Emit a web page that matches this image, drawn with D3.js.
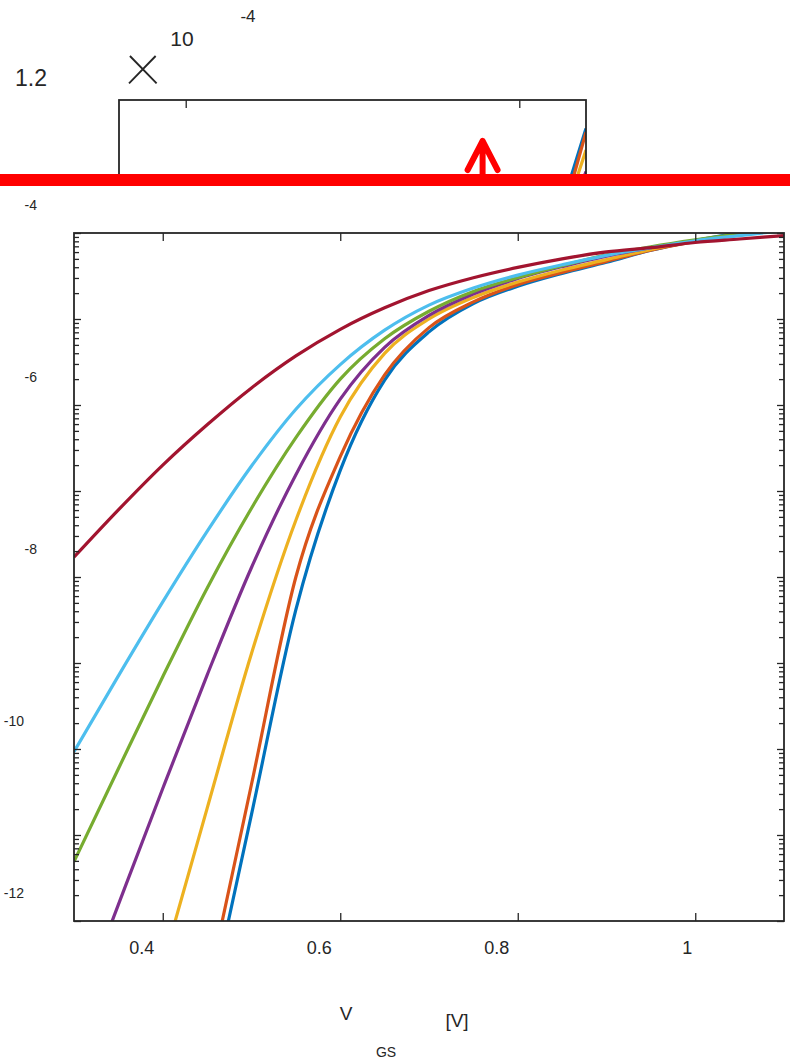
<!DOCTYPE html>
<html>
<head>
<meta charset="utf-8">
<script src="https://cdn.jsdelivr.net/npm/d3@7"></script>
<style>
body { margin: 0; background: #fff; }
text { font-family: "Liberation Sans", Arial, sans-serif; fill: #262626; }
</style>
</head>
<body>
<div id="chart"></div>
<script>
// gate voltage grid [V]
var vgs = [0.30, 0.35, 0.40, 0.45, 0.50, 0.55, 0.60, 0.65, 0.70, 0.75, 0.80, 0.85, 0.90, 0.95, 1.00, 1.05, 1.10];

// drain current [A], one array per curve (MATLAB default colour order)
var idBlue   = [5.25e-21, 1.26e-18, 3.02e-16, 7.24e-14, 1.74e-11, 4.17e-9, 1.74e-7, 1.95e-6, 7.08e-6, 1.51e-5, 2.40e-5, 3.39e-5, 4.57e-5, 6.31e-5, 8.13e-5, 1.02e-4, 1.32e-4];
var idOrange = [8.91e-21, 2.29e-18, 5.89e-16, 1.51e-13, 3.89e-11, 1.0e-8, 2.51e-7, 2.24e-6, 7.94e-6, 1.58e-5, 2.51e-5, 3.47e-5, 4.68e-5, 6.31e-5, 7.94e-5, 9.77e-5, 1.31e-4];
var idYellow = [6.31e-17, 4.37e-15, 3.09e-13, 2.04e-11, 1.29e-9, 4.57e-8, 7.24e-7, 3.98e-6, 1.0e-5, 1.78e-5, 2.69e-5, 3.72e-5, 4.90e-5, 6.46e-5, 8.13e-5, 9.77e-5, 1.26e-4];
var idPurple = [6.76e-14, 1.55e-12, 3.47e-11, 7.24e-10, 1.29e-8, 1.55e-7, 1.17e-6, 4.68e-6, 1.10e-5, 1.95e-5, 2.95e-5, 4.07e-5, 5.37e-5, 6.76e-5, 8.13e-5, 9.55e-5, 1.20e-4];
var idGreen  = [4.90e-12, 5.89e-11, 6.92e-10, 7.41e-9, 6.31e-8, 4.17e-7, 2.0e-6, 5.89e-6, 1.23e-5, 2.09e-5, 3.02e-5, 4.17e-5, 5.56e-5, 6.92e-5, 8.32e-5, 9.77e-5, 1.12e-4];
var idCyan   = [9.33e-11, 7.08e-10, 5.13e-9, 3.39e-8, 1.95e-7, 8.91e-7, 2.95e-6, 7.41e-6, 1.45e-5, 2.29e-5, 3.24e-5, 4.27e-5, 5.50e-5, 6.76e-5, 8.13e-5, 9.33e-5, 1.07e-4];
var idRed    = [1.70e-8, 6.03e-8, 2.0e-7, 5.89e-7, 1.58e-6, 3.72e-6, 7.59e-6, 1.35e-5, 2.14e-5, 3.02e-5, 3.98e-5, 5.01e-5, 6.03e-5, 6.76e-5, 7.76e-5, 8.51e-5, 9.33e-5];

var curves = [idBlue, idOrange, idYellow, idPurple, idGreen, idCyan, idRed];
var curveColors = ["#0072BD", "#D95319", "#EDB120", "#7E2F8E", "#77AC30", "#4DBEEE", "#A2142F"];

var xTickValues = [0.4, 0.6, 0.8, 1];
var xTickLabels = ["0.4", "0.6", "0.8", "1"];
var yLabelExponents = [-4, -6, -8, -10, -12];
var insetTickValues = [0.5, 1];
var arrowV = 0.945;

var axisColor = "#262626";

var svg = d3.select("#chart").append("svg")
            .attr("width", 790)
            .attr("height", 1060);

// ---------- main log plot ----------
var x = d3.scaleLinear().domain([0.3, 1.1]).range([74, 784]);
var y = d3.scaleLog().domain([1e-12, 1e-4]).range([921, 233]);

svg.append("clipPath").attr("id", "mainClip")
   .append("rect")
   .attr("x", x.range()[0]).attr("y", y.range()[1])
   .attr("width", x.range()[1] - x.range()[0])
   .attr("height", y.range()[0] - y.range()[1]);

var line = d3.line()
             .x(function (d, i) { return x(vgs[i]); })
             .y(function (d) { return y(d); })
             .curve(d3.curveMonotoneX);

svg.append("g").attr("clip-path", "url(#mainClip)")
   .selectAll("path")
   .data(curves)
   .enter()
   .append("path")
   .attr("d", line)
   .attr("fill", "none")
   .attr("stroke", function (d, i) { return curveColors[i]; })
   .attr("stroke-width", 3.2)
   .attr("stroke-linejoin", "round");

// log ticks: majors at decades, minors at 2..9
var majorTicks = [], minorTicks = [];
for (var e = -12; e <= -4; e++) {
  majorTicks.push(Math.pow(10, e));
  if (e < -4) {
    for (var k = 2; k <= 9; k++) minorTicks.push(k * Math.pow(10, e));
  }
}

function styleAxis(g) {
  g.select(".domain").remove();
  g.selectAll("line").attr("stroke", axisColor).attr("stroke-width", 1.3);
}

svg.append("g").attr("transform", "translate(" + x.range()[0] + ",0)")
   .call(d3.axisLeft(y).tickValues(minorTicks).tickSize(-5).tickFormat(""))
   .call(styleAxis);
svg.append("g").attr("transform", "translate(" + x.range()[0] + ",0)")
   .call(d3.axisLeft(y).tickValues(majorTicks).tickSize(-7).tickFormat(""))
   .call(styleAxis);
svg.append("g").attr("transform", "translate(" + x.range()[1] + ",0)")
   .call(d3.axisRight(y).tickValues(minorTicks).tickSize(-5).tickFormat(""))
   .call(styleAxis);
svg.append("g").attr("transform", "translate(" + x.range()[1] + ",0)")
   .call(d3.axisRight(y).tickValues(majorTicks).tickSize(-7).tickFormat(""))
   .call(styleAxis);

svg.append("g").attr("transform", "translate(0," + y.range()[0] + ")")
   .call(d3.axisBottom(x).tickValues(xTickValues).tickSize(-8).tickFormat(""))
   .call(styleAxis);
svg.append("g").attr("transform", "translate(0," + y.range()[1] + ")")
   .call(d3.axisTop(x).tickValues(xTickValues).tickSize(-8).tickFormat(""))
   .call(styleAxis);

svg.append("rect")
   .attr("x", x.range()[0]).attr("y", y.range()[1])
   .attr("width", x.range()[1] - x.range()[0])
   .attr("height", y.range()[0] - y.range()[1])
   .attr("fill", "none")
   .attr("stroke", axisColor)
   .attr("stroke-width", 1.8);

// exponent-only tick labels (the "10" base got lost)
svg.selectAll(".ylab")
   .data(yLabelExponents)
   .enter()
   .append("text")
   .attr("class", "ylab")
   .attr("x", function (d) { return String(d).length > 2 ? 24 : 37; })
   .attr("y", function (d) { return y(Math.pow(10, d)) - 23; })
   .attr("text-anchor", "end")
   .style("font-size", "14px")
   .text(function (d) { return d; });

svg.selectAll(".xlab")
   .data(xTickValues)
   .enter()
   .append("text")
   .attr("class", "xlab")
   .attr("x", function (d, i) { return x(d) + (xTickLabels[i].length > 1 ? -21 : -8); })
   .attr("y", 954)
   .attr("text-anchor", "middle")
   .style("font-size", "18px")
   .text(function (d, i) { return xTickLabels[i]; });

// x axis title, subscript drifted apart
svg.append("text").attr("x", 346).attr("y", 1020).attr("text-anchor", "middle")
   .style("font-size", "19px").text("V");
svg.append("text").attr("x", 386).attr("y", 1057).attr("text-anchor", "middle")
   .style("font-size", "14px").text("GS");
svg.append("text").attr("x", 457).attr("y", 1027).attr("text-anchor", "middle")
   .style("font-size", "19px").text("[V]");

// ---------- linear inset, cut by the red bar ----------
var xIn = d3.scaleLinear().domain([0.4, 1.1]).range([119, 586]);
var yIn = d3.scaleLinear().domain([1.0e-4, 1.4e-4]).range([243, 100]);

svg.append("clipPath").attr("id", "insetCut")
   .append("rect").attr("x", 0).attr("y", 0).attr("width", 790).attr("height", 186);
svg.append("clipPath").attr("id", "insetClip")
   .append("rect")
   .attr("x", xIn.range()[0]).attr("y", yIn.range()[1])
   .attr("width", xIn.range()[1] - xIn.range()[0])
   .attr("height", yIn.range()[0] - yIn.range()[1]);

var inset = svg.append("g").attr("clip-path", "url(#insetCut)");

var lineIn = d3.line()
               .x(function (d, i) { return xIn(vgs[i]); })
               .y(function (d) { return yIn(d); });

inset.append("g").attr("clip-path", "url(#insetClip)")
     .selectAll("path")
     .data(curves)
     .enter()
     .append("path")
     .attr("d", lineIn)
     .attr("fill", "none")
     .attr("stroke", function (d, i) { return curveColors[i]; })
     .attr("stroke-width", 3.2);

inset.append("g").attr("transform", "translate(0," + yIn.range()[1] + ")")
     .call(d3.axisTop(xIn).tickValues(insetTickValues).tickSize(-8).tickFormat(""))
     .call(styleAxis);

inset.append("rect")
     .attr("x", xIn.range()[0]).attr("y", yIn.range()[1])
     .attr("width", xIn.range()[1] - xIn.range()[0])
     .attr("height", yIn.range()[0] - yIn.range()[1])
     .attr("fill", "none")
     .attr("stroke", axisColor)
     .attr("stroke-width", 1.8);

svg.append("text").attr("x", 31).attr("y", 86).attr("text-anchor", "middle")
   .style("font-size", "23px").text("1.2");
svg.append("text").attr("x", 143).attr("y", 84).attr("text-anchor", "middle")
   .style("font-family", "Roboto, 'Liberation Sans', sans-serif")
   .style("font-size", "70px").style("font-weight", "100").text("\u00D7");
svg.append("text").attr("x", 182).attr("y", 46).attr("text-anchor", "middle")
   .style("font-size", "21px").text("10");
svg.append("text").attr("x", 248).attr("y", 22).attr("text-anchor", "middle")
   .style("font-size", "17px").text("-4");

// red bar and arrow annotation
svg.append("rect").attr("x", 0).attr("y", 174).attr("width", 790).attr("height", 12)
   .attr("fill", "#ff0000");

var ax = xIn(arrowV);
svg.append("path")
   .attr("d", "M" + ax + ",178 V141 M" + (ax - 15) + ",170 L" + ax + ",141 L" + (ax + 15) + ",170")
   .attr("fill", "none")
   .attr("stroke", "#ff0000")
   .attr("stroke-width", 6)
   .attr("stroke-linecap", "round")
   .attr("stroke-linejoin", "round");
</script>
</body>
</html>
